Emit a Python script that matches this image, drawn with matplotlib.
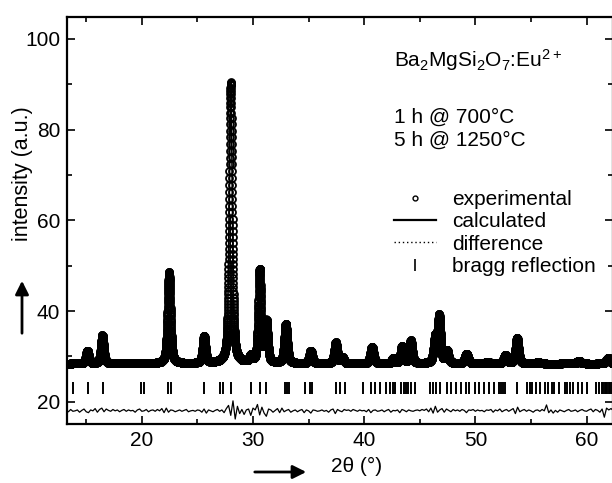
import numpy as np
import matplotlib
matplotlib.use("Agg")
from matplotlib import pyplot as plt
from matplotlib.lines import Line2D

plt.rcParams['font.family'] = ['Liberation Sans', 'DejaVu Sans']
plt.rcParams['mathtext.fontset'] = 'custom'
plt.rcParams['mathtext.rm'] = 'Liberation Sans'
plt.rcParams['mathtext.default'] = 'regular'

# reflections: position (2theta), apex intensity, fwhm
peak_pos = [15.1, 16.45, 22.45, 25.6, 28.0, 29.8, 30.6, 31.2, 32.95, 35.2,
            37.45, 38.05, 40.7, 42.6, 43.4, 44.2, 46.4, 46.75, 47.45, 49.2,
            51.1, 52.7, 53.75, 55.65, 58.0, 59.3, 61.95]
peak_top = [31.2, 34.6, 48.5, 34.4, 90.3, 29.8, 48.9, 37.4, 37.1, 31.2,
            33.0, 29.6, 32.1, 29.5, 32.1, 33.4, 34.0, 38.5, 31.1, 30.5,
            28.8, 30.2, 34.1, 28.7, 28.5, 29.0, 29.6]
peak_fwhm = [0.3, 0.3, 0.32, 0.3, 0.32, 0.3, 0.3, 0.3, 0.32, 0.32,
             0.32, 0.3, 0.34, 0.3, 0.3, 0.3, 0.34, 0.3, 0.3, 0.36,
             0.36, 0.34, 0.32, 0.36, 0.36, 0.4, 0.4]
background = 28.4

# bragg reflection positions
bragg = [13.82, 15.14, 16.49, 19.94, 20.18, 22.37, 22.61, 25.63, 27.04, 27.28,
         28.0, 29.83, 30.64, 31.15, 32.86, 33.07, 33.25, 34.66, 35.1, 35.34,
         37.5, 37.8, 38.25, 39.9, 40.65, 40.95, 41.4, 42.0, 42.35, 42.57,
         42.78, 43.32, 43.56, 43.77, 43.98, 44.22, 44.58, 45.95, 46.17, 46.47,
         46.85, 47.45, 47.81, 48.26, 48.71, 49.16, 49.46, 49.97, 50.36, 50.75,
         51.26, 51.71, 52.16, 52.28, 52.49, 52.67, 53.78, 54.68, 54.89, 55.13,
         55.43, 55.79, 56.27, 56.57, 56.87, 57.08, 57.53, 58.04, 58.28, 58.49,
         58.79, 59.27, 59.57, 60.08, 60.88, 61.13, 61.35, 61.5, 61.62, 61.75,
         61.88, 62.0, 62.12, 62.25]
bragg_level = 23.1

# difference curve (obs - calc), every 0.2 deg from 13.2, shifted to 18
diff_offset = 18.0
diff = [0.1, -0.2, 0.3, -0.1, 0.0, 0.2, -0.3, 0.1, 0.4, -0.2,
        -0.4, 0.2, 0.0, 0.5, -0.3, 0.3, 0.6, -0.2, 0.4, 0.1,
        -0.1, 0.3, 0.0, 0.2, -0.2, 0.1, 0.3, -0.1, 0.2, 0.0,
        0.1, -0.3, 0.2, 0.4, -0.1, 0.0, 0.3, -0.2, 0.1, 0.2,
        -0.1, 0.3, 0.0, 0.5, -0.4, 0.6, -0.3, 0.2, 0.1, -0.2,
        0.0, 0.2, -0.1, 0.1, 0.3, -0.2, 0.0, 0.1, -0.1, 0.2,
        0.1, -0.3, 0.4, -0.5, 0.2, 0.0, -0.2, 0.1, 0.3, -0.1,
        0.2, -0.4, 0.5, 1.2, -1.0, 2.2, -1.8, 1.0, -0.6, 0.3,
        -0.8, 0.2, 0.4, -1.0, 0.6, 0.2, 1.4, -0.9, 0.8, -0.5,
        -1.2, 0.4, 0.2, -0.3, 0.1, 0.5, -0.4, 0.6, -0.2, 0.1,
        0.3, -0.3, 0.0, 0.2, -0.2, 0.1, 0.3, -0.4, 0.2, 0.0,
        -0.5, 0.2, 0.1, -0.1, 0.0, 0.2, -0.1, 0.1, -0.3, 0.2,
        0.4, -0.6, 0.3, 0.0, -0.2, 0.3, 0.1, 0.2, -0.1, 0.3,
        0.1, -0.1, 0.2, 0.0, 0.1, -0.2, 0.3, -0.4, 0.1, 0.2,
        -0.1, 0.0, 0.2, -0.2, 0.1, 0.3, -0.3, 0.1, 0.0, 0.2,
        -0.4, 0.3, 0.1, -0.2, 0.2, 0.0, -0.1, 0.1, 0.2, 0.0,
        0.3, 0.1, 0.4, -0.2, 0.6, -0.5, 1.0, -0.3, 0.2, 0.5,
        -0.3, 0.4, 0.1, -0.2, 0.3, 0.0, 0.2, -0.1, 0.3, 0.1,
        -0.4, 0.2, 0.1, 0.3, -0.1, 0.2, 0.0, 0.1, -0.2, 0.2,
        0.1, 0.3, -0.3, 0.2, 0.0, 0.4, -0.2, 0.1, 0.3, -0.1,
        0.2, 0.5, -0.6, 0.8, -0.2, 0.1, 0.3, -0.1, 0.2, 0.0,
        -0.3, 0.1, 0.2, -0.1, 0.3, 0.0, 1.3, -0.4, 0.2, -0.5,
        0.1, -0.3, 0.2, 0.0, -0.2, 0.1, 0.3, -0.1, 0.0, 0.2,
        -0.2, 0.1, 0.3, 0.0, -0.1, 0.2, 0.4, -0.2, 0.3, 0.1,
        -0.3, 0.4, -1.4, 0.6, 0.2, 0.5, 0.1]


def profile(x):
    # pseudo-voigt sum of the reflections above
    y = np.full_like(x, background)
    for p, t, w in zip(peak_pos, peak_top, peak_fwhm):
        h = t - background
        d = (x - p) / (w / 2)
        y += h * (0.5 / (1 + d**2) + 0.5 * np.exp(-np.log(2) * d**2))
    return y


tt = np.arange(13.0, 62.6, 0.006)
calc = profile(tt)
tt_diff = 13.2 + 0.2 * np.arange(len(diff))

fig = plt.figure(figsize=(6.12, 4.83), dpi=100)
ax = fig.add_axes([67/612, 59/483, 546/612, 407/483])

ax.plot(tt, calc, 'o', ms=5.0, mfc='none', mec='k', mew=1.3)
ax.plot(tt, calc, '-', color='k', lw=1.2)
ax.plot(tt_diff, diff_offset + np.array(diff), '-', color='k', lw=0.9)
ax.plot(bragg, [bragg_level] * len(bragg), '|', color='k', ms=8.5, mew=1.4)

ax.set_xlim(13.27, 62.38)
ax.set_ylim(15.1, 104.8)
ax.set_xticks([20, 30, 40, 50, 60])
ax.set_xticks(np.arange(15, 62, 5), minor=True)
ax.set_yticks([20, 40, 60, 80, 100])
ax.set_yticks([30, 50, 70, 90], minor=True)
ax.tick_params(which='both', direction='in', top=True, right=True,
               labelsize=15, width=1.2, pad=5)
ax.tick_params(which='major', length=6)
ax.tick_params(which='minor', length=3.5)
for s in ax.spines.values():
    s.set_linewidth(1.6)

ax.set_ylabel('intensity (a.u.)', fontsize=15.5)
ax.yaxis.set_label_coords(-0.063, 0.614)
ax.set_xlabel('2θ (°)', fontsize=15)
ax.xaxis.set_label_coords(0.53, -0.082)

ax.text(0.599, 0.894, 'Ba$_2$MgSi$_2$O$_7$:Eu$^{2+}$', transform=ax.transAxes,
        fontsize=15, va='center', ha='left')
ax.text(0.599, 0.754, '1 h @ 700°C', transform=ax.transAxes,
        fontsize=15, va='center', ha='left')
ax.text(0.599, 0.698, '5 h @ 1250°C', transform=ax.transAxes,
        fontsize=15, va='center', ha='left')

handles = [Line2D([], [], ls='none', marker='o', ms=3.5, mfc='none', mec='k', mew=1.0),
           Line2D([], [], ls='-', color='k', lw=1.6),
           Line2D([], [], ls=(0, (1, 2)), color='k', lw=1.0),
           Line2D([], [], ls='none', marker='|', ms=8, mew=1.2, color='k')]
labels = ['experimental', 'calculated', 'difference', 'bragg reflection']
ax.legend(handles, labels, loc='upper left', bbox_to_anchor=(0.599, 0.575),
          frameon=False, fontsize=15, borderpad=0, handlelength=2.0,
          handletextpad=0.8, labelspacing=0.16, borderaxespad=0)

ax.annotate('', xy=(22, 205), xytext=(22, 147), xycoords='figure pixels',
            textcoords='figure pixels', annotation_clip=False,
            arrowprops=dict(arrowstyle='-|>', lw=2, color='k', mutation_scale=20))
ax.annotate('', xy=(309, 11), xytext=(252, 11), xycoords='figure pixels',
            textcoords='figure pixels', annotation_clip=False,
            arrowprops=dict(arrowstyle='-|>', lw=2, color='k', mutation_scale=20))

fig.savefig('out.png', dpi=100)
